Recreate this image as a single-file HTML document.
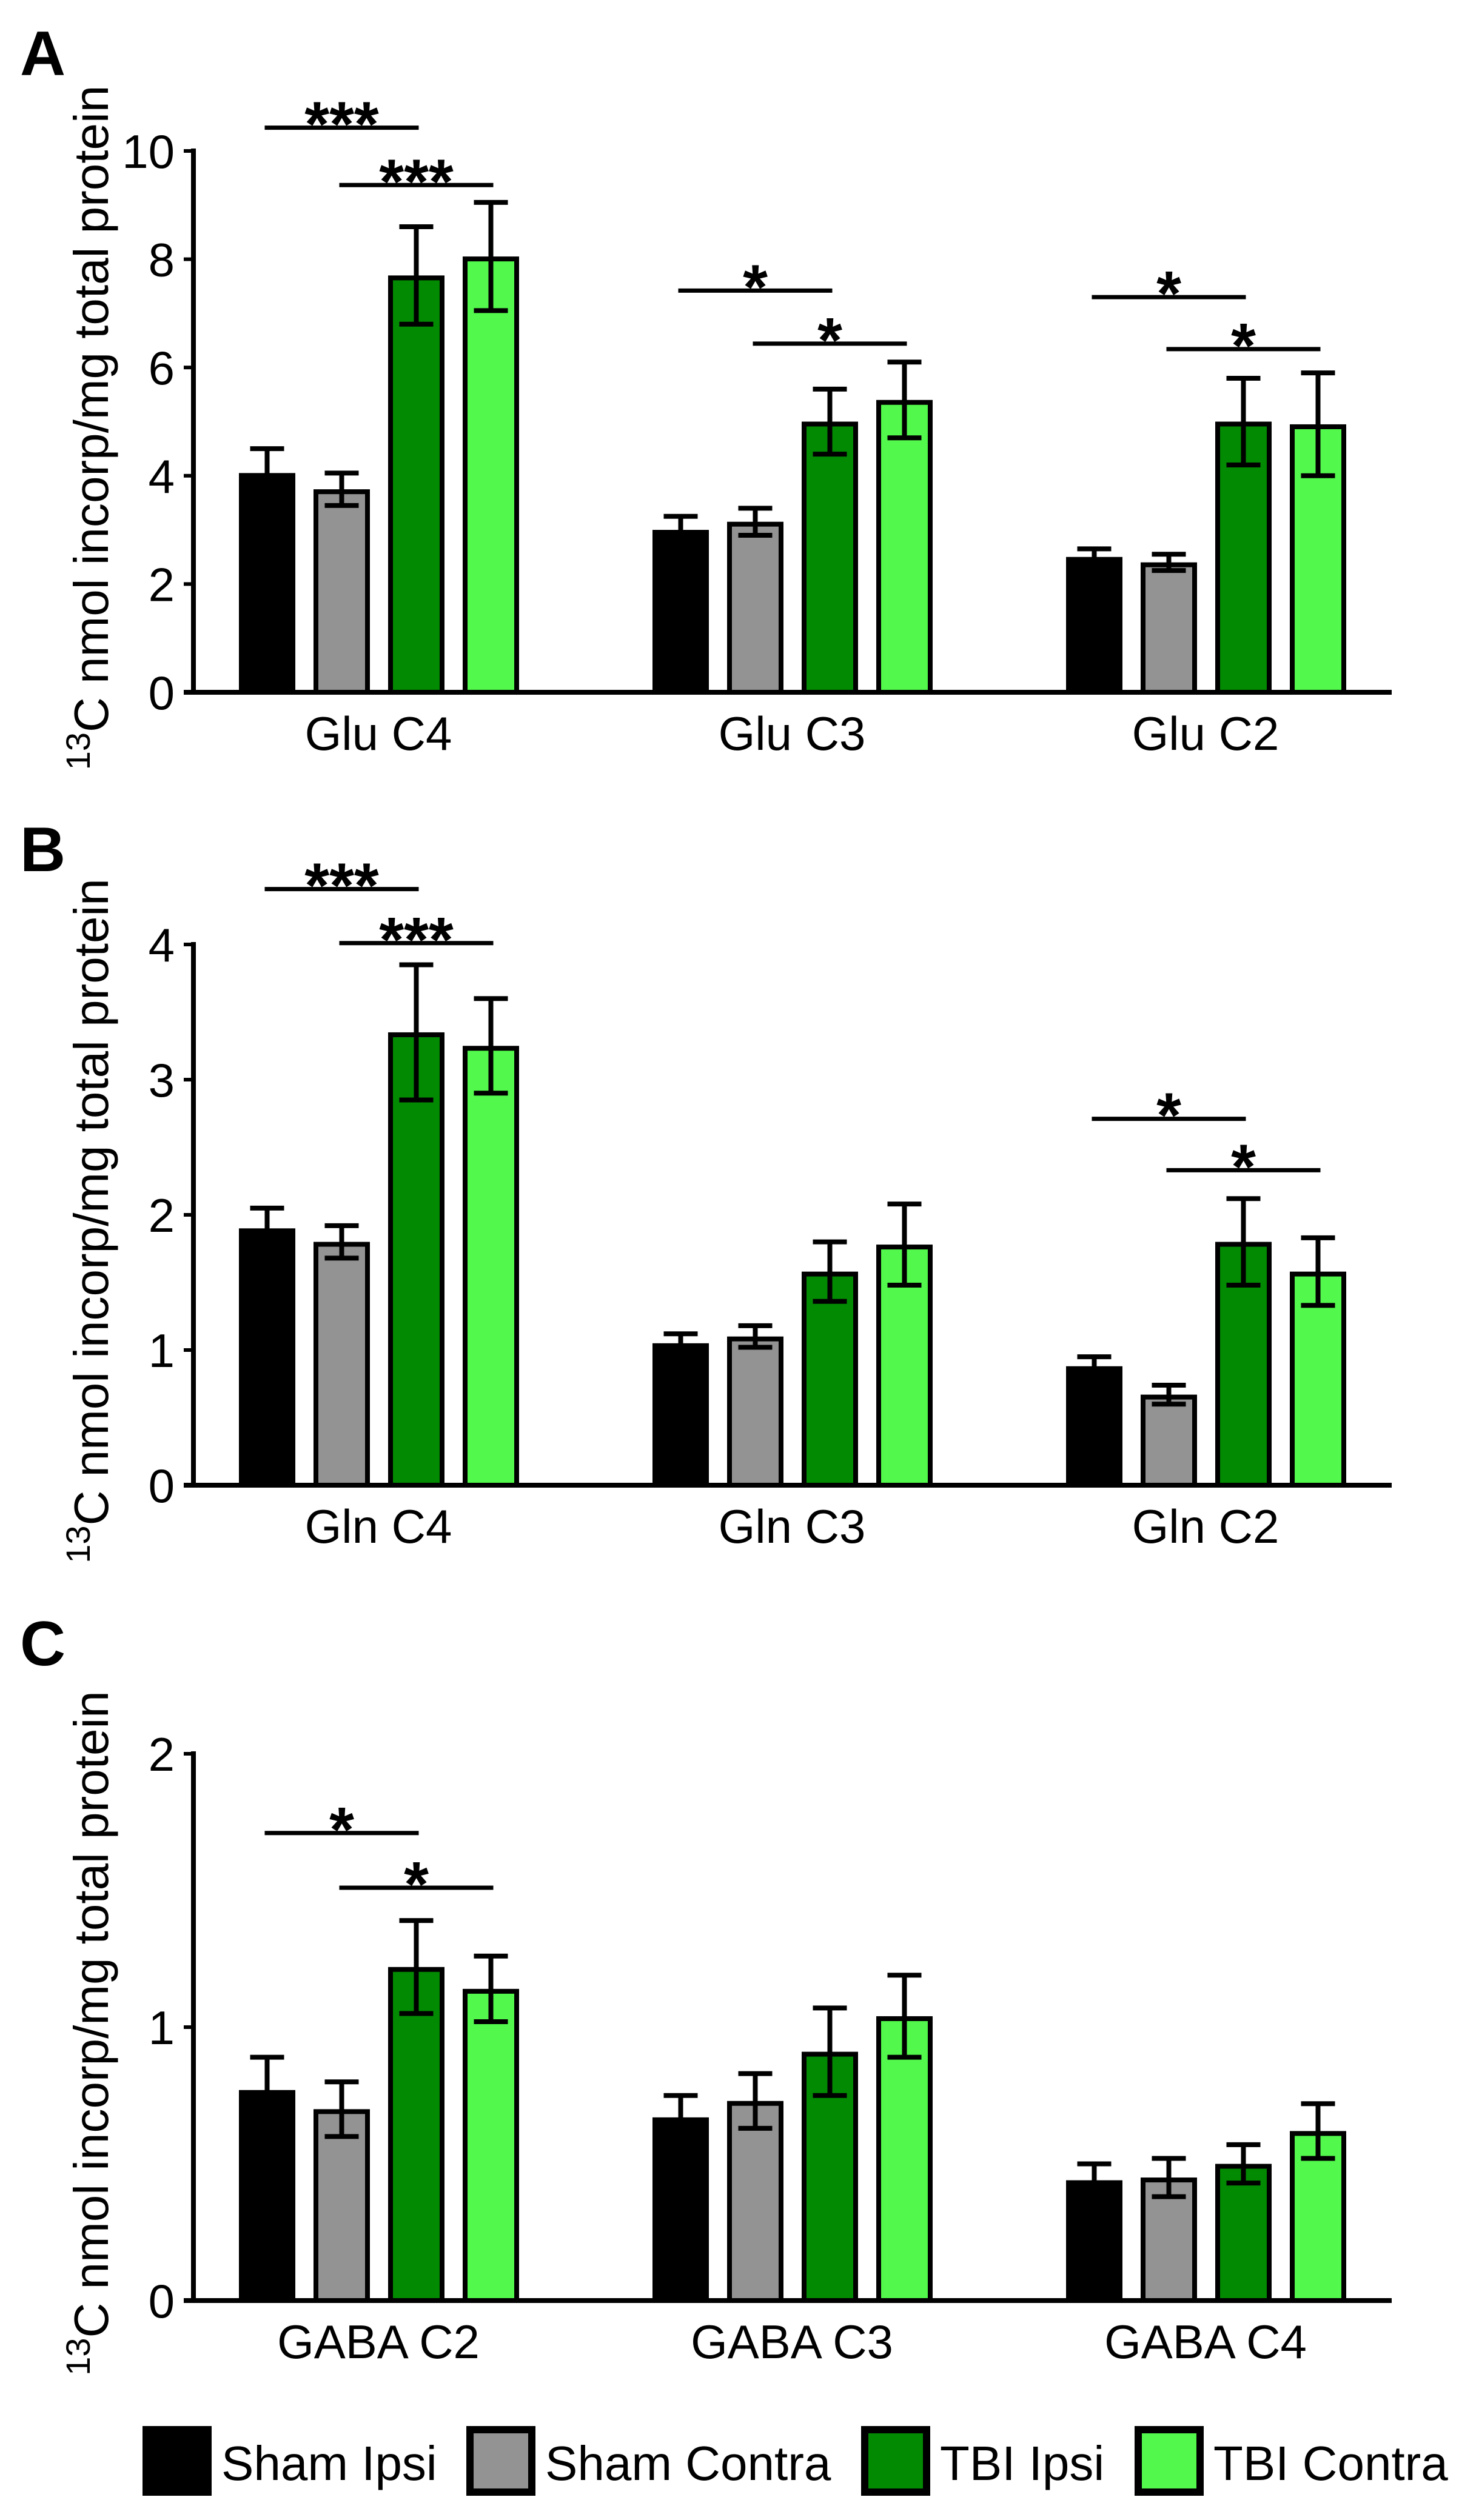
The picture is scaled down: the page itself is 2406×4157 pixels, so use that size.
<!DOCTYPE html>
<html><head><meta charset="utf-8"><style>
html,body{margin:0;padding:0;background:#fff;}
svg{display:block;font-family:"Liberation Sans",Arial,sans-serif;}
</style></head><body>
<svg id="fig" width="2406" height="4157" viewBox="0 0 2406 4157" xmlns="http://www.w3.org/2000/svg">
<text x="33" y="124" font-size="104" font-weight="bold">A</text>
<text x="33" y="1437" font-size="104" font-weight="bold">B</text>
<text x="33" y="2747" font-size="104" font-weight="bold">C</text>
<g id="legend"></g>
</svg>
<script>
const groupsA = ["Glu C4","Glu C3","Glu C2"];
const meansA = [[4.05,3.75,7.7,8.05],[3.0,3.15,5.0,5.4],[2.5,2.4,5.0,4.95]];
const errsA = [[0.45,0.3,0.9,1.0],[0.25,0.25,0.6,0.7],[0.15,0.15,0.8,0.95]];
const ticksA = [0,2,4,6,8,10];
const sigA = [[10.43,9.37,"***"],[7.42,6.44,"*"],[7.3,6.34,"*"]];

const groupsB = ["Gln C4","Gln C3","Gln C2"];
const meansB = [[1.9,1.8,3.35,3.25],[1.05,1.1,1.58,1.78],[0.88,0.67,1.8,1.58]];
const errsB = [[0.15,0.12,0.5,0.35],[0.07,0.08,0.22,0.3],[0.07,0.07,0.32,0.25]];
const ticksB = [0,1,2,3,4];
const sigB = [[4.41,4.01,"***"],null,[2.71,2.33,"*"]];

const groupsC = ["GABA C2","GABA C3","GABA C4"];
const meansC = [[0.77,0.7,1.22,1.14],[0.67,0.73,0.91,1.04],[0.44,0.45,0.5,0.62]];
const errsC = [[0.12,0.1,0.17,0.12],[0.08,0.1,0.16,0.15],[0.06,0.07,0.07,0.1]];
const ticksC = [0,1,2];
const sigC = [[1.71,1.51,"*"],null,null];

const seriesNames = ["Sham Ipsi","Sham Contra","TBI Ipsi","TBI Contra"];
const seriesColors = ["#000000","#939393","#028a02","#52f94c"];

const NS="http://www.w3.org/2000/svg";
const svg=document.getElementById('fig');
function mk(tag,attrs,parent){const e=document.createElementNS(NS,tag);for(const k in attrs)e.setAttribute(k,attrs[k]);(parent||svg).appendChild(e);return e;}

function panel(id,groups,means,errs,ticks,sigs,top,zero){
  const g=mk('g',{});
  
  
  const maxV=ticks[ticks.length-1];
  const y=v=>zero-(zero-top)*v/maxV;
  const axX=319, xEnd=2295, g0=394, gPitch=682, bPitch=123, bW=93;
  groups.forEach((name,gi)=>{
    means[gi].forEach((v,si)=>{
      const x=g0+gi*gPitch+si*bPitch;
      const r=mk('rect',{x:x+4,y:y(v)+4,width:bW-8,height:zero-y(v)-4,fill:seriesColors[si],stroke:'#000','stroke-width':8},g);
      
      
      const cx=x+bW/2, e=errs[gi][si];
      const eb=mk('path',{d:`M${cx},${y(v+e)}V${y(v-e)}M${cx-28},${y(v+e)}H${cx+28}M${cx-28},${y(v-e)}H${cx+28}`,stroke:'#000','stroke-width':8,fill:'none'},g);
      
      
    });
    const lbl=mk('text',{x:g0+gi*gPitch+230,y:zero+95,'font-size':78,'text-anchor':'middle'},g);
    lbl.textContent=name;
    
    
    const s=sigs[gi];
    if(s){
      [[0,2,s[0]],[1,3,s[1]]].forEach(([a,b,v])=>{
        const x1=g0+gi*gPitch+a*bPitch+bW/2-4, x2=g0+gi*gPitch+b*bPitch+bW/2+4;
        const ln=mk('line',{x1:x1,x2:x2,y1:y(v),y2:y(v),stroke:'#000','stroke-width':7},g);
        
        
        const st=mk('text',{x:(x1+x2)/2,y:y(v)+30,'font-size':105,'font-weight':'bold','text-anchor':'middle'},g);
        st.textContent=s[2];
        
        
      });
    }
  });
  const ya=mk('line',{x1:axX,x2:axX,y1:top-4,y2:zero+4,stroke:'#000','stroke-width':8},g);
  
  
  const xa=mk('line',{x1:303,x2:xEnd,y1:zero,y2:zero,stroke:'#000','stroke-width':8},g);
  
  
  ticks.forEach(t=>{
    mk('line',{x1:303,x2:axX,y1:y(t),y2:y(t),stroke:'#000','stroke-width':6},g);
    const tl=mk('text',{x:288,y:y(t)+28,'font-size':78,'text-anchor':'end'},g);
    tl.textContent=t;
    
    
  });
  const cy=(top+zero)/2+10;
  const tt=mk('text',{x:0,y:0,'font-size':80,'text-anchor':'middle',transform:`translate(178,${cy}) rotate(-90)`},g);
  
  
  const s1=mk('tspan',{'font-size':56,dy:-30},tt); s1.textContent='13';
  const s2=mk('tspan',{dy:30},tt); s2.textContent='C nmol incorp/mg total protein';
}
panel('a',groupsA,meansA,errsA,ticksA,sigA,249,1142);
panel('b',groupsB,meansB,errsB,ticksB,sigB,1558,2450);
panel('c',groupsC,meansC,errsC,ticksC,sigC,2893,3795);

const lg=document.getElementById('legend');
const lgBoxX=[235,769,1420,1871];
seriesNames.forEach((n,i)=>{
  const r=mk('rect',{x:lgBoxX[i]+6,y:4008,width:102,height:103,fill:seriesColors[i],stroke:'#000','stroke-width':12},lg);
  
  
  const t=mk('text',{x:lgBoxX[i]+130,y:4091,'font-size':80},lg);
  t.textContent=n;
  
  
});
</script>
</body></html>
